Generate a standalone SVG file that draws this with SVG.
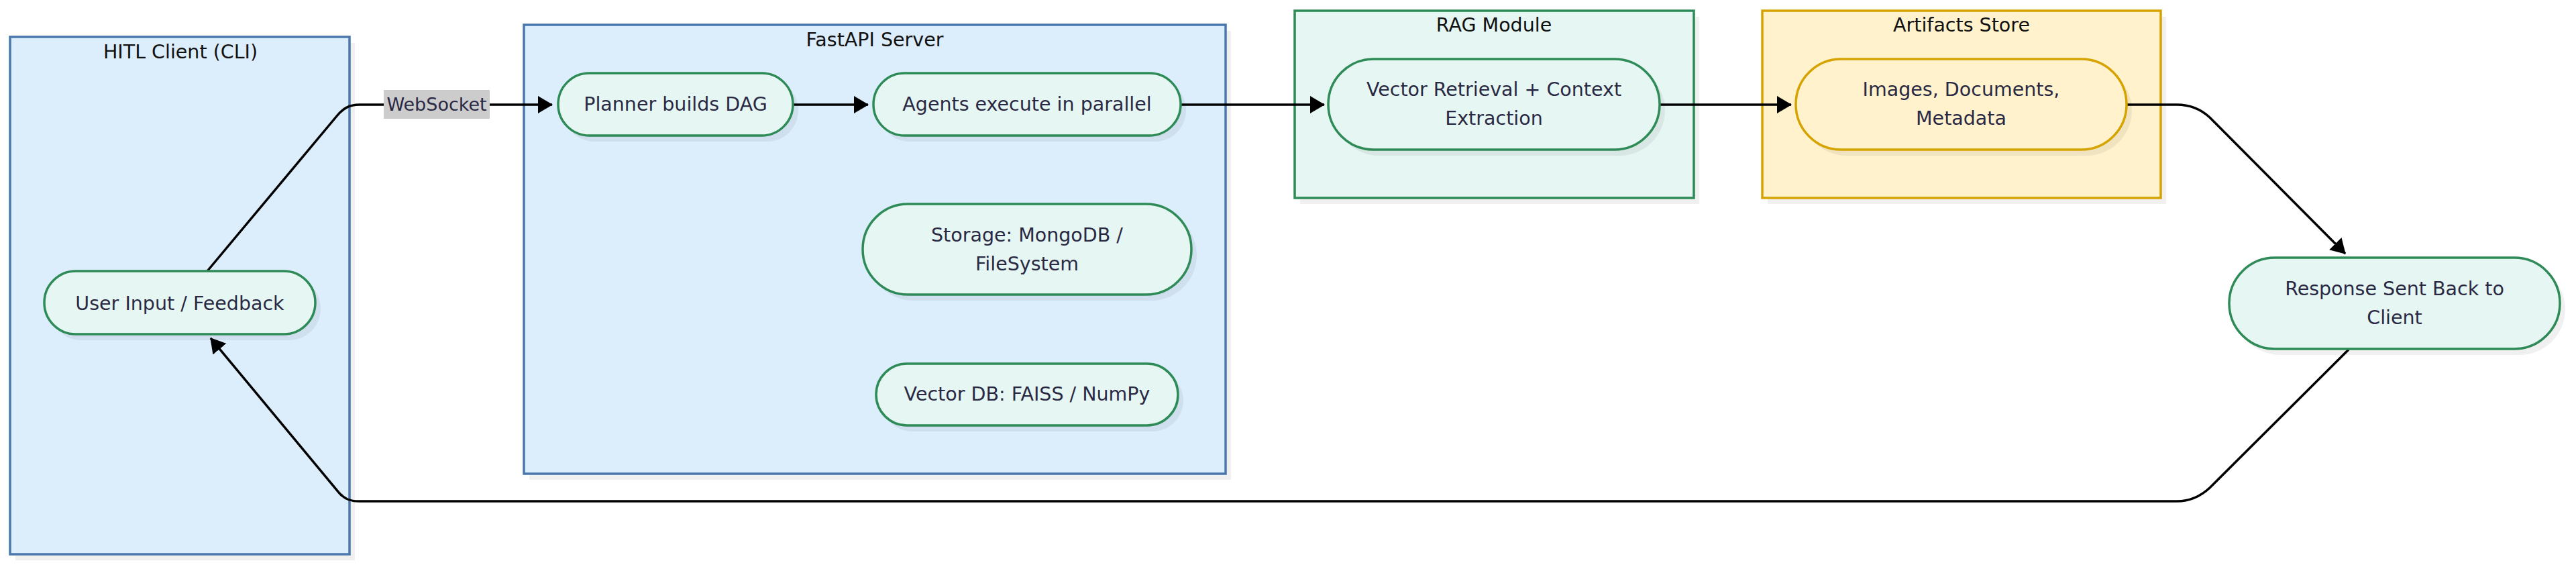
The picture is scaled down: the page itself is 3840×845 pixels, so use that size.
<svg xmlns="http://www.w3.org/2000/svg" width="3840" height="845" viewBox="0 0 3840 845">
<style>
  .title{font-family:"DejaVu Sans","Liberation Sans",sans-serif;font-size:28.5px;fill:#111;text-anchor:middle}
  .lbl{font-family:"DejaVu Sans","Liberation Sans",sans-serif;font-size:28.5px;fill:#2a2944;text-anchor:middle}
  .shadow{fill:#000;fill-opacity:0.06}
  .cl-blue{fill:#dcedfc;stroke:#4a78ad;stroke-width:3.5}
  .cl-green{fill:#e6f6f2;stroke:#2e8b57;stroke-width:3.5}
  .cl-yellow{fill:#fff2cc;stroke:#d6a300;stroke-width:3.5}
  .n-green{fill:#e6f6f2;stroke:#2e8b57;stroke-width:3.5}
  .n-yellow{fill:#fff2cc;stroke:#d6a300;stroke-width:3.5}
  .edge{fill:none;stroke:#000;stroke-width:3.5;marker-end:url(#arrow)}
  .edge-plain{fill:none;stroke:#000;stroke-width:3.5}
</style>
<defs>
  <marker id="arrow" markerUnits="userSpaceOnUse" viewBox="0 0 22 26" markerWidth="22" markerHeight="26" refX="21" refY="13" orient="auto">
    <path d="M0,0 L22,13 L0,26 z" fill="#000"/>
  </marker>
</defs>
<rect width="3840" height="845" fill="#fff"/>

<g id="clusters">
  <g id="cluster-hitl">
    <rect class="shadow" x="23" y="64" width="506" height="771"/>
    <rect class="cl-blue" x="15" y="55" width="506" height="771"/>
    <text class="title" x="269" y="87">HITL Client (CLI)</text>
  </g>
  <g id="cluster-fastapi">
    <rect class="shadow" x="789" y="46" width="1046" height="669"/>
    <rect class="cl-blue" x="781" y="37" width="1046" height="669"/>
    <text class="title" x="1304" y="69">FastAPI Server</text>
  </g>
  <g id="cluster-rag">
    <rect class="shadow" x="1938" y="25" width="595" height="279"/>
    <rect class="cl-green" x="1930" y="16" width="595" height="279"/>
    <text class="title" x="2227" y="47">RAG Module</text>
  </g>
  <g id="cluster-artifacts">
    <rect class="shadow" x="2635" y="25" width="594" height="279"/>
    <rect class="cl-yellow" x="2627" y="16" width="594" height="279"/>
    <text class="title" x="2924" y="47">Artifacts Store</text>
  </g>
</g>

<g id="connectors">
  <path class="edge" d="M309,404 L502,173 C511,162 520,156 536,156 L823,156"/>
  <path class="edge" d="M1182,156 L1294,156"/>
  <path class="edge" d="M1760,156 L1974,156"/>
  <path class="edge" d="M2474,156 L2670,156"/>
  <path class="edge" d="M3170,156 L3245,156 C3265,156 3280,162 3294,175 L3496,378"/>
  <path class="edge" d="M3501,521 L3294,727 C3280,740 3265,747 3245,747 L535,747 C521,747 513,743 506,735 L314,504"/>
  <g id="label-websocket">
    <rect x="572" y="134" width="158" height="43" fill="#cccccc"/>
    <text class="lbl" x="651" y="165" style="font-size:27px">WebSocket</text>
  </g>
</g>

<g id="node-user-input">
  <rect class="shadow" x="74" y="413" width="404" height="94" rx="47"/>
  <rect class="n-green" x="66" y="404" width="404" height="94" rx="47"/>
  <text class="lbl" x="268" y="462">User Input / Feedback</text>
</g>
<g id="node-planner">
  <rect class="shadow" x="840" y="118" width="350" height="93" rx="46.5"/>
  <rect class="n-green" x="832" y="109" width="350" height="93" rx="46.5"/>
  <text class="lbl" x="1007" y="165">Planner builds DAG</text>
</g>
<g id="node-agents">
  <rect class="shadow" x="1310" y="118" width="458" height="93" rx="46.5"/>
  <rect class="n-green" x="1302" y="109" width="458" height="93" rx="46.5"/>
  <text class="lbl" x="1531" y="165">Agents execute in parallel</text>
</g>
<g id="node-storage">
  <rect class="shadow" x="1294" y="313" width="490" height="135" rx="67.5"/>
  <rect class="n-green" x="1286" y="304" width="490" height="135" rx="67.5"/>
  <text class="lbl" x="1531" y="360">Storage: MongoDB /</text>
  <text class="lbl" x="1531" y="403">FileSystem</text>
</g>
<g id="node-vectordb">
  <rect class="shadow" x="1314" y="551" width="450" height="92" rx="46"/>
  <rect class="n-green" x="1306" y="542" width="450" height="92" rx="46"/>
  <text class="lbl" x="1531" y="597">Vector DB: FAISS / NumPy</text>
</g>
<g id="node-rag">
  <rect class="shadow" x="1988" y="97" width="494" height="135" rx="67.5"/>
  <rect class="n-green" x="1980" y="88" width="494" height="135" rx="67.5"/>
  <text class="lbl" x="2227" y="143">Vector Retrieval + Context</text>
  <text class="lbl" x="2227" y="186">Extraction</text>
</g>
<g id="node-artifacts">
  <rect class="shadow" x="2685" y="97" width="493" height="135" rx="67.5"/>
  <rect class="n-yellow" x="2677" y="88" width="493" height="135" rx="67.5"/>
  <text class="lbl" x="2923.5" y="143">Images, Documents,</text>
  <text class="lbl" x="2923.5" y="186">Metadata</text>
</g>
<g id="node-response">
  <rect class="shadow" x="3331" y="393" width="493" height="136" rx="68"/>
  <rect class="n-green" x="3323" y="384" width="493" height="136" rx="68"/>
  <text class="lbl" x="3569.5" y="440">Response Sent Back to</text>
  <text class="lbl" x="3569.5" y="483">Client</text>
</g>
</svg>
